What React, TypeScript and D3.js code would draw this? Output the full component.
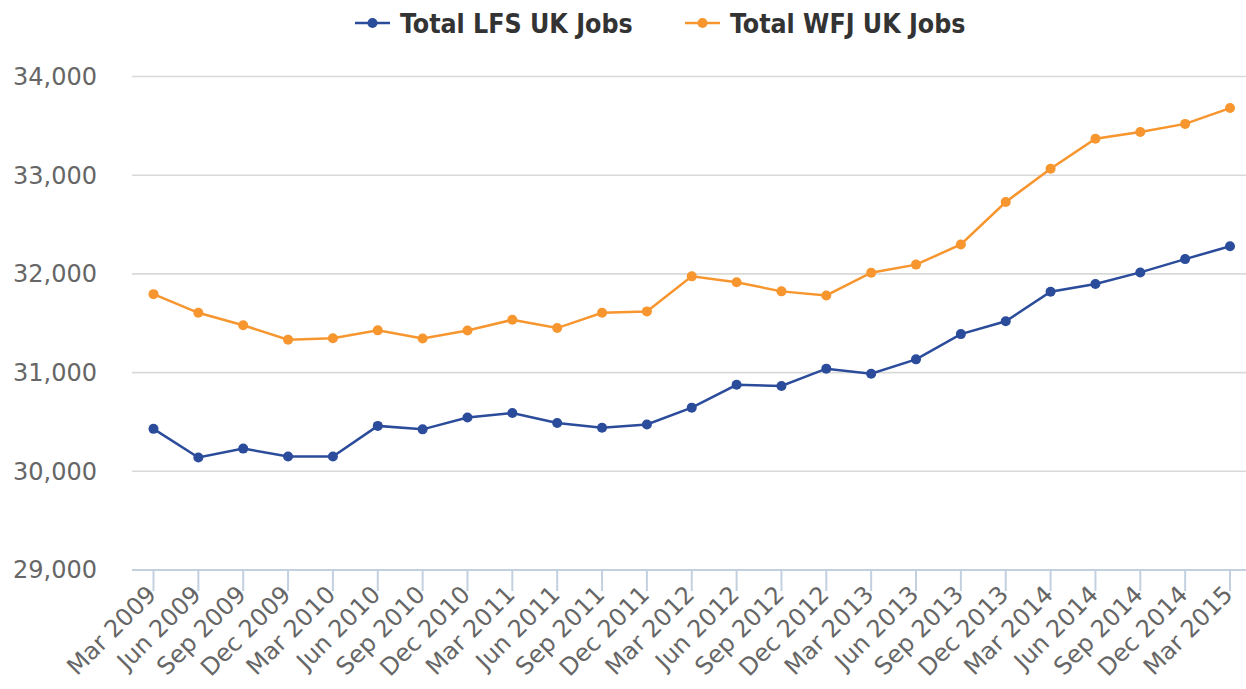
import React from "react";
import * as d3 from "d3";

const quarters = [
  "Mar 2009", "Jun 2009", "Sep 2009", "Dec 2009",
  "Mar 2010", "Jun 2010", "Sep 2010", "Dec 2010",
  "Mar 2011", "Jun 2011", "Sep 2011", "Dec 2011",
  "Mar 2012", "Jun 2012", "Sep 2012", "Dec 2012",
  "Mar 2013", "Jun 2013", "Sep 2013", "Dec 2013",
  "Mar 2014", "Jun 2014", "Sep 2014", "Dec 2014",
  "Mar 2015",
];

const lfsJobs = [
  30430, 30140, 30230, 30150, 30150, 30460, 30425, 30545, 30590,
  30490, 30442, 30475, 30645, 30876, 30864, 31040, 30988, 31134,
  31390, 31520, 31820, 31898, 32015, 32150, 32280,
];

const wfjJobs = [
  31795, 31606, 31480, 31334, 31348, 31428, 31346, 31426, 31535,
  31451, 31606, 31620, 31975, 31915, 31823, 31782, 32012, 32094,
  32298, 32728, 33066, 33370, 33438, 33520, 33680,
];

const yTicks = [29000, 30000, 31000, 32000, 33000, 34000];

const series = [
  { name: "Total LFS UK Jobs", values: lfsJobs, color: "#2b4b9b" },
  { name: "Total WFJ UK Jobs", values: wfjJobs, color: "#f7962f" },
];

const width = 1246;
const height = 689;
const gridLeft = 132;
const gridRight = 1246;

export default function App() {
  const x = d3.scalePoint<string>().domain(quarters).range([153.5, 1230]);
  const y = d3.scaleLinear().domain([29000, 34000]).range([570, 76.5]);
  const fmt = d3.format(",");

  const line = d3
    .line<number>()
    .x((_, i) => x(quarters[i]) as number)
    .y((d) => y(d));

  const font = "'DejaVu Sans', Verdana, sans-serif";

  return (
    <svg
      width={width}
      height={height}
      style={{ position: "absolute", left: 0, top: 0, background: "#fff" }}
      fontFamily={font}
    >
      {/* grid */}
      {yTicks.slice(1).map((t) => (
        <line
          key={t}
          x1={gridLeft}
          x2={gridRight}
          y1={y(t)}
          y2={y(t)}
          stroke="#d9d9d9"
          strokeWidth={1.6}
        />
      ))}
      {yTicks.map((t) => (
        <text
          key={"l" + t}
          x={97}
          y={y(t)}
          dy="0.35em"
          textAnchor="end"
          fontSize={24}
          fill="#666"
        >
          {fmt(t)}
        </text>
      ))}

      {/* x axis */}
      <line x1={gridLeft} x2={gridRight} y1={570} y2={570} stroke="#c2d0e0" strokeWidth={2} />
      {quarters.map((q) => (
        <g key={q} transform={`translate(${x(q)},570)`}>
          <line y1={0} y2={21} stroke="#c2d0e0" strokeWidth={2} />
          <text
            transform="translate(4,26) rotate(-45)"
            textAnchor="end"
            fontSize={24}
            fill="#666"
          >
            {q}
          </text>
        </g>
      ))}

      {/* series */}
      {series.map((s) => (
        <g key={s.name}>
          <path d={line(s.values) ?? ""} fill="none" stroke={s.color} strokeWidth={2.5} />
          {s.values.map((v, i) => (
            <circle key={i} cx={x(quarters[i])} cy={y(v)} r={5} fill={s.color} />
          ))}
        </g>
      ))}

      {/* legend */}
      {series.map((s, i) => {
        const lx = i === 0 ? 355 : 685;
        return (
          <g key={"lg" + s.name} transform={`translate(${lx},23)`}>
            <line x1={0} x2={35} stroke={s.color} strokeWidth={2.5} />
            <circle cx={17.5} cy={0} r={5} fill={s.color} />
            <text
              x={45}
              dy="0.36em"
              fontSize={26.5}
              fontWeight="bold"
              fontFamily="'DejaVu Sans Condensed', 'DejaVu Sans', sans-serif"
              fill="#333"
            >
              {s.name}
            </text>
          </g>
        );
      })}
    </svg>
  );
}
